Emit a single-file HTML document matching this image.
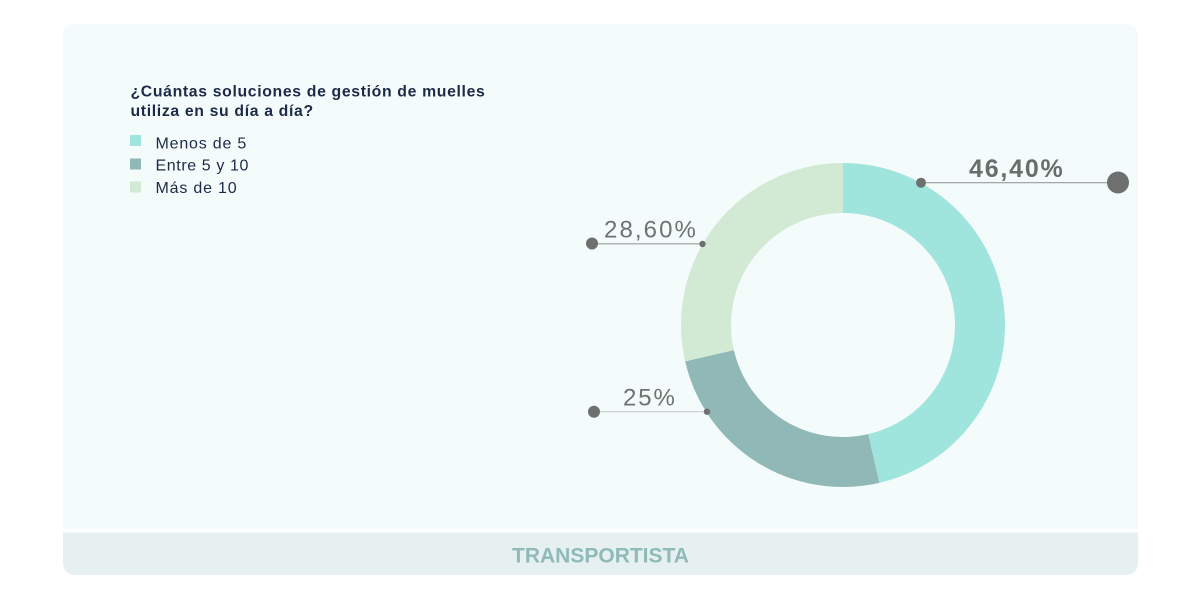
<!DOCTYPE html>
<html>
<head>
<meta charset="utf-8">
<style>
  html,body{margin:0;padding:0;background:#ffffff;}
  body{width:1201px;height:601px;overflow:hidden;}
  svg{display:block;}
  text{font-family:"Liberation Sans", sans-serif;}
</style>
</head>
<body>
<svg width="1201" height="601" viewBox="0 0 1201 601" xmlns="http://www.w3.org/2000/svg">
  <!-- card top area -->
  <path d="M63,529 L63,37 Q63,24 76,24 L1125,24 Q1138,24 1138,37 L1138,529 Z" fill="#f3fcfb"/>
  <!-- footer -->
  <path d="M63,532.5 L1138,532.5 L1138,562 Q1138,575 1125,575 L76,575 Q63,575 63,562 Z" fill="#e6f0f0"/>
  <text x="600.5" y="562.5" text-anchor="middle" font-size="21" font-weight="bold" fill="#8fbab8">TRANSPORTISTA</text>

  <!-- title -->
  <text x="130.5" y="96.5" font-size="15.8" font-weight="bold" fill="#1c2a48" letter-spacing="0.65">¿Cuántas soluciones de gestión de muelles</text>
  <text x="130.5" y="116" font-size="15.8" font-weight="bold" fill="#1c2a48" letter-spacing="0.65">utiliza en su día a día?</text>

  <!-- legend -->
  <rect x="130" y="135" width="11" height="11" fill="#a0e5dd"/>
  <text x="155.5" y="148.3" font-size="16" fill="#1c2a48" letter-spacing="0.8">Menos de 5</text>
  <rect x="130" y="158.5" width="11" height="11" fill="#8fb8b7"/>
  <text x="155.5" y="170.7" font-size="16" fill="#1c2a48" letter-spacing="0.6">Entre 5 y 10</text>
  <rect x="130" y="181.5" width="11" height="11" fill="#d2e9d3"/>
  <text x="155.5" y="193" font-size="16" fill="#1c2a48" letter-spacing="0.8">Más de 10</text>

  <!-- donut -->
  <path d="M843,163 A162,162 0 0 1 879.37,482.87 L868.14,434.14 A112,112 0 0 0 843,213 Z" fill="#a0e5dd"/>
  <path d="M879.37,482.87 A162,162 0 0 1 685.13,361.34 L733.86,350.12 A112,112 0 0 0 868.14,434.14 Z" fill="#8fb8b7"/>
  <path d="M685.13,361.34 A162,162 0 0 1 843,163 L843,213 A112,112 0 0 0 733.86,350.12 Z" fill="#d2e9d3"/>

  <!-- 46,40% label -->
  <line x1="921" y1="182.7" x2="1118" y2="182.7" stroke="#9a9c9b" stroke-width="1.2"/>
  <circle cx="921" cy="182.7" r="5" fill="#6d706f"/>
  <circle cx="1118" cy="182.5" r="11" fill="#6d706f"/>
  <text x="969" y="177" font-size="25" font-weight="bold" fill="#6b6d6c" letter-spacing="1.8">46,40%</text>

  <!-- 28,60% label -->
  <line x1="592" y1="243.8" x2="702.5" y2="243.8" stroke="#9a9c9b" stroke-width="1.2"/>
  <circle cx="592" cy="243.5" r="6" fill="#6d706f"/>
  <circle cx="702.5" cy="244" r="3.2" fill="#6d706f"/>
  <text x="604" y="237.5" font-size="24" fill="#707271" letter-spacing="2.1">28,60%</text>

  <!-- 25% label -->
  <line x1="594" y1="411.7" x2="707" y2="411.7" stroke="#c9cbca" stroke-width="1.2"/>
  <circle cx="594" cy="411.7" r="6" fill="#6d706f"/>
  <circle cx="707" cy="411.7" r="3.2" fill="#6d706f"/>
  <text x="623" y="405.5" font-size="24" fill="#707271" letter-spacing="1.9">25%</text>
</svg>
</body>
</html>
